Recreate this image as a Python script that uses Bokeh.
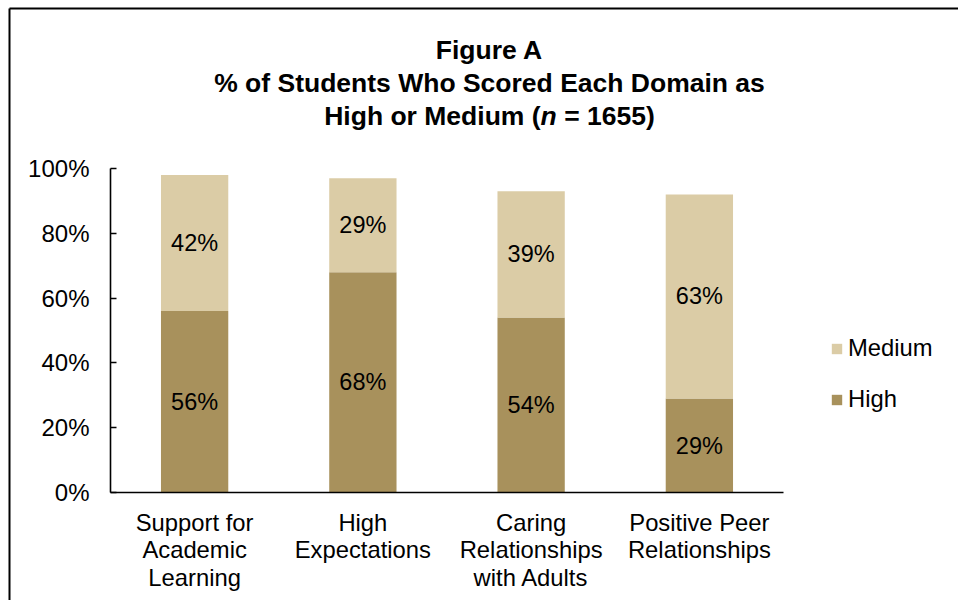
from bokeh.plotting import figure
from bokeh.models import (FixedTicker, PrintfTickFormatter, Legend, LegendItem,
                          Label, Arrow, ColumnDataSource, LinearAxis, Range1d)
from bokeh.core.properties import value
from bokeh.embed import file_html
from bokeh.resources import INLINE

# ---- data ----
categories = ["Support for\nAcademic\nLearning", "High\nExpectations",
              "Caring\nRelationships\nwith Adults", "Positive Peer\nRelationships"]
high = [56, 68, 54, 29]
medium = [42, 29, 39, 63]
y_ticks = [0, 20, 40, 60, 80, 100]
series_names = ["High", "Medium"]

FONT = "Liberation Sans"
C_HIGH = "#A8915C"
C_MED = "#DBCCA6"

W, H = 958, 600
# frame covers the whole canvas; ranges chosen so that the axes sit where the
# reference has them (x: 110..783 px, y: 492..168 px)
px_per_cat = (783 - 110) / len(categories)
x0 = -110 / px_per_cat
px_per_pct = (492 - 168) / 100
y0 = -(H - 492) / px_per_pct

xs = [i + 0.5 for i in range(len(categories))]
src = ColumnDataSource(dict(x=xs, high=high, medium=medium))

p = figure(width=W, height=H, output_backend="svg", toolbar_location=None,
           x_range=Range1d(x0, x0 + W / px_per_cat),
           y_range=Range1d(y0, y0 + H / px_per_pct),
           x_axis_location=None, y_axis_location=None,
           min_border=0, min_border_left=0, min_border_right=0,
           min_border_top=0, min_border_bottom=0)
p.outline_line_color = None
p.xgrid.grid_line_color = None
p.ygrid.grid_line_color = None
p.background_fill_color = "white"
p.border_fill_color = "white"

rs = p.vbar_stack(["high", "medium"], x="x", width=0.4, source=src,
                  color=[C_HIGH, C_MED], line_color=None)

# segment labels
lab_x, lab_y, lab_t = [], [], []
for x, h, m in zip(xs, high, medium):
    lab_x += [x, x]
    lab_y += [h / 2, h + m / 2]
    lab_t += [f"{h}%", f"{m}%"]
p.text(x=lab_x, y=lab_y, text=lab_t, text_align="center", text_baseline="middle",
       text_font=value(FONT), text_font_size="23.5px", text_color="black")

# axes
yax = LinearAxis(fixed_location=0, bounds=(0, 100),
                 ticker=FixedTicker(ticks=y_ticks),
                 formatter=PrintfTickFormatter(format="%d%%"))
yax.major_tick_in = 6
yax.major_tick_out = 0
yax.minor_tick_line_color = None
yax.major_label_standoff = 21
yax.major_label_text_font_size = "24px"

xax = LinearAxis(fixed_location=0, bounds=(0, len(categories)),
                 ticker=FixedTicker(ticks=xs),
                 major_label_overrides={x: c for x, c in zip(xs, categories)})
xax.major_tick_line_color = None
xax.major_tick_in = 0
xax.major_tick_out = 0
xax.minor_tick_line_color = None
xax.major_label_standoff = 16
xax.major_label_text_font_size = "23.8px"
xax.major_label_text_line_height = 1.03

for ax in (xax, yax):
    ax.axis_line_color = "black"
    ax.axis_line_width = 1.6
    ax.major_tick_line_width = 1.4
    ax.major_label_text_font = FONT
    ax.major_label_text_color = "black"
yax.major_tick_line_color = "black"
p.add_layout(yax, "left")
p.add_layout(xax, "below")

# legend
legend = Legend(items=[LegendItem(label=series_names[1], renderers=[rs[1]]),
                       LegendItem(label=series_names[0], renderers=[rs[0]])],
                location=(830, 187), padding=0, margin=0, spacing=23,
                glyph_width=13, glyph_height=13, label_height=24,
                label_standoff=5, label_text_font=FONT,
                label_text_font_size="23.8px", label_text_color="black",
                border_line_color=None, background_fill_alpha=0)
p.add_layout(legend, "center")

# title (three lines, italic n)
tkw = dict(x_units="screen", y_units="screen", text_font=FONT,
           text_font_size="26.5px", text_font_style="bold", text_color="black",
           text_baseline="alphabetic")
p.add_layout(Label(x=489, y=H - 49, text="Figure A", text_align="center", **tkw))
p.add_layout(Label(x=489, y=H - 82, text="% of Students Who Scored Each Domain as",
                   text_align="center", **tkw))
p.add_layout(Label(x=323.7, y=H - 115, text="High or Medium (", text_align="left", **tkw))
tkw_i = dict(tkw)
tkw_i["text_font_style"] = "bold italic"
p.add_layout(Label(x=540.1, y=H - 115, text="n", text_align="left", **tkw_i))
p.add_layout(Label(x=563.7, y=H - 115, text="= 1655)", text_align="left", **tkw))

# chart border (only its left and top edges fall inside the window)
bkw = dict(start=None, end=None, start_units="canvas", end_units="canvas",
           line_color="black", line_width=2)
p.add_layout(Arrow(x_start=9, y_start=8, x_end=9, y_end=H, **bkw))
p.add_layout(Arrow(x_start=9, y_start=8, x_end=W, y_end=8, **bkw))

open("out.html", "w").write(file_html(p, INLINE))
